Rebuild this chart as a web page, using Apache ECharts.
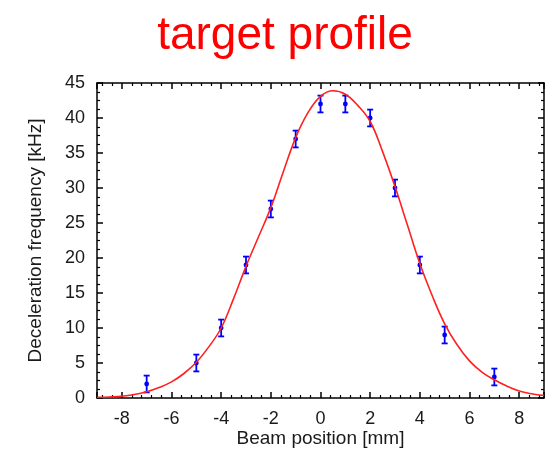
<!DOCTYPE html>
<html>
<head>
<meta charset="utf-8">
<script src="https://cdn.jsdelivr.net/npm/echarts@6/dist/echarts.min.js"></script>
<style>html,body{margin:0;padding:0;background:#fff}#c{width:545px;height:450px}</style>
</head>
<body>
<div id="c"></div>
<script>
// Measured points (beam position mm, deceleration frequency kHz, error kHz)
const positions = [-7, -5, -4, -3, -2, -1, 0, 1, 2, 3, 4, 5, 7];
const freqs     = [2, 5, 10, 19, 27, 37, 42, 42, 40, 30, 19, 9, 3];
const errors    = [1.2, 1.2, 1.2, 1.2, 1.2, 1.2, 1.2, 1.2, 1.2, 1.2, 1.2, 1.2, 1.2];
// Target profile curve
const curveX = [-9, -8.5, -8, -7.5, -7, -6.5, -6, -5.5, -5, -4.5, -4, -3.5, -3, -2.5, -2, -1.5, -1, -0.5, 0, 0.5, 1, 1.5, 2, 2.5, 3, 3.5, 4, 4.5, 5, 5.5, 6, 6.5, 7, 7.5, 8, 8.5, 9];
const curveY = [0.1, 0.15, 0.25, 0.5, 0.9, 1.5, 2.3, 3.5, 5.1, 7.3, 10.0, 14.2, 18.8, 23.0, 27.2, 32.3, 37.2, 40.8, 43.1, 43.9, 43.4, 41.8, 39.5, 35.2, 30.2, 24.7, 19.2, 14.6, 10.6, 7.6, 5.3, 3.7, 2.6, 1.7, 1.0, 0.6, 0.35];
const titleText = 'target profile';
const xName = 'Beam position [mm]';
const yName = 'Deceleration frequency [kHz]';

const FONT = '"Liberation Sans", Arial, sans-serif';
const chart = echarts.init(document.getElementById('c'), null, {renderer: 'canvas'});

const frameLine = {show: true, onZero: false, lineStyle: {color: '#000', width: 1.5}};
const majorTick = {show: true, inside: true, length: 6, lineStyle: {color: '#000', width: 1.5}};
const minorTickX = {show: true, splitNumber: 5, length: 3, lineStyle: {color: '#000', width: 1.2}};
const minorTickY = {show: true, splitNumber: 4, length: 3, lineStyle: {color: '#000', width: 1.2}};
const labelStyle = {color: '#1a1a1a', fontFamily: FONT, fontSize: 18};

function xAx(pos, showLabels) {
  return {
    type: 'value', position: pos, min: -9, max: 9, splitNumber: 9,
    axisLine: frameLine, axisTick: majorTick, minorTick: Object.assign({}, minorTickX),
    splitLine: {show: false}, minorSplitLine: {show: false},
    axisLabel: Object.assign({show: showLabels, margin: 12, showMinLabel: false, showMaxLabel: false}, labelStyle),
    name: showLabels ? xName : '', nameLocation: 'middle', nameGap: 31, nameMoveOverlap: false,
    nameTextStyle: {color: '#1a1a1a', fontFamily: FONT, fontSize: 19}
  };
}
function yAx(pos, showLabels) {
  return {
    type: 'value', position: pos, min: 0, max: 45, interval: 5,
    axisLine: frameLine, axisTick: majorTick, minorTick: Object.assign({}, minorTickY),
    splitLine: {show: false}, minorSplitLine: {show: false},
    axisLabel: Object.assign({show: showLabels, margin: 12}, labelStyle),
    name: showLabels ? yName : '', nameLocation: 'middle', nameGap: 52, nameRotate: 90, nameMoveOverlap: false,
    nameTextStyle: {color: '#1a1a1a', fontFamily: FONT, fontSize: 19}
  };
}

const pointData = positions.map((p, i) => [p, freqs[i], errors[i]]);
const curveData = curveX.map((x, i) => [x, curveY[i]]);

chart.setOption({
  animation: false,
  backgroundColor: '#fff',
  title: {
    text: titleText, left: 280, top: 8, textAlign: 'center',
    textStyle: {color: '#ff0000', fontFamily: FONT, fontSize: 46, fontWeight: 'normal'}
  },
  grid: {left: 97, right: 1, top: 83, bottom: 52, containLabel: false, outerBoundsMode: 'none'},
  xAxis: [xAx('bottom', true), xAx('top', false)],
  yAxis: [yAx('left', true), yAx('right', false)],
  series: [
    {
      type: 'custom', xAxisIndex: 0, yAxisIndex: 0, z: 2,
      data: pointData,
      renderItem: function (params, api) {
        const x = api.value(0), y = api.value(1), e = api.value(2);
        const t = api.coord([x, y + e]);
        const b = api.coord([x, y - e]);
        const c = api.coord([x, y]);
        const hw = 3;
        const st = {stroke: '#0000ff', lineWidth: 1.8};
        return {
          type: 'group',
          children: [
            {type: 'line', shape: {x1: t[0], y1: t[1], x2: b[0], y2: b[1]}, style: st},
            {type: 'line', shape: {x1: t[0] - hw, y1: t[1], x2: t[0] + hw, y2: t[1]}, style: st},
            {type: 'line', shape: {x1: b[0] - hw, y1: b[1], x2: b[0] + hw, y2: b[1]}, style: st},
            {type: 'circle', shape: {cx: c[0], cy: c[1], r: 2.4}, style: {fill: '#0000ff'}}
          ]
        };
      }
    },
    {
      type: 'line', xAxisIndex: 0, yAxisIndex: 0, z: 3,
      data: curveData, smooth: 0.4, showSymbol: false, symbol: 'none',
      lineStyle: {color: '#ff2020', width: 1.6}
    }
  ]
});
</script>
</body>
</html>
